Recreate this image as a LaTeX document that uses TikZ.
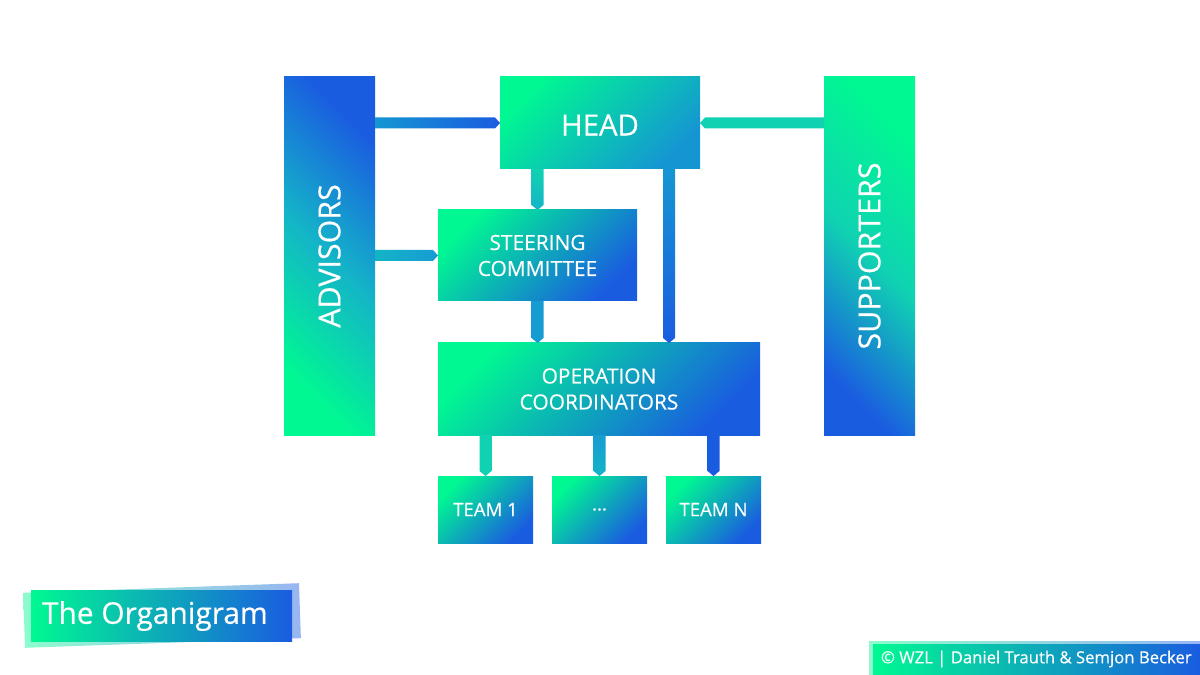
\documentclass[tikz,border=0pt]{standalone}
\usepackage{fontspec}
\setmainfont{Open Sans}[FakeBold=0.4]
\usetikzlibrary{calc}
\definecolor{gr}{HTML}{00F892}
\definecolor{bl}{HTML}{1A5CE0}
\definecolor{tb}{HTML}{1596D2}
\definecolor{tg}{HTML}{10D2B2}
\definecolor{tc}{HTML}{14B4C8}
\definecolor{tm}{HTML}{179CD2}
\newcommand\connR[4]{\shade[left color=#3,right color=#4] ($(#1)+(0,-5.5)$) -- ($(#2)+(-5,-5.5)$) -- (#2) -- ($(#2)+(-5,5.5)$) -- ($(#1)+(0,5.5)$) -- cycle;}
\newcommand\connL[4]{\shade[left color=#4,right color=#3] ($(#1)+(0,-5.5)$) -- ($(#2)+(5,-5.5)$) -- (#2) -- ($(#2)+(5,5.5)$) -- ($(#1)+(0,5.5)$) -- cycle;}
\newcommand\connD[4]{\shade[top color=#3,bottom color=#4] ($(#1)+(-6,0)$) -- ($(#2)+(-6,-5)$) -- (#2) -- ($(#2)+(6,-5)$) -- ($(#1)+(6,0)$) -- cycle;}
\tikzset{
  wh/.style 2 args={minimum width=#1*0.02cm, minimum height=#2*0.02cm},
  box/.style={inner sep=0pt, outer sep=0pt, text=white, align=center},
  gtl/.style={top color=gr, bottom color=#1, shading angle=45},
  vtxt/.style={font=\fontsize{17.3}{20}\selectfont},
  mtxt/.style={font=\fontsize{11.9}{14.8}\selectfont},
}
\begin{document}
\begin{tikzpicture}[x=0.02cm,y=-0.02cm]
\useasboundingbox (0,0) rectangle (1200,675);
% side boxes
\node[box, wh={91}{358}, top color=bl, bottom color=gr, middle color=tc, shading angle=-45] (adv) at (329.5,256) {};
\node[box, rotate=90, vtxt] (advt) at (adv.center) {ADVISORS};
\node[box, wh={91}{358}, top color=gr, bottom color=bl, middle color=tg, shading angle=-45] (sup) at (869.5,256) {};
\node[box, rotate=90, vtxt] (supt) at (sup.center) {SUPPORTERS};
% main boxes
\node[box, wh={200}{92}, gtl=tb] (head) at (600,123) {};
\node[box, font=\fontsize{16.7}{20}\selectfont] (headt) at ($(head.center)+(0,2)$) {HEAD};
\node[box, wh={199}{91}, gtl=bl, mtxt] (steer) at (537.5,255.5) {STEERING\\COMMITTEE};
\node[box, wh={322}{92}, gtl=bl, mtxt] (op) at (599,389) {OPERATION\\COORDINATORS};
\node[box, wh={95}{67}, gtl=bl, font=\fontsize{10.6}{13}\selectfont] (t1) at (485.5,509.5) {TEAM 1};
\node[box, wh={95}{67}, gtl=bl, font=\fontsize{10.6}{13}\selectfont] (t2) at (599.5,509.5) {...};
\node[box, wh={95}{67}, gtl=bl, font=\fontsize{10.6}{13}\selectfont] (tn) at (713.5,509.5) {TEAM N};
% connectors
\connR{adv.east |- head.west}{head.west}{tb}{bl}
\connR{adv.east |- steer.west}{steer.west}{tc}{tm}
\connL{sup.west |- head.east}{head.east}{tg}{tg}
\connD{steer.north |- head.south}{steer.north}{tg}{tc}
\coordinate (hr) at ($(head.south east)+(-31,0)$);
\connD{hr}{hr |- op.north}{tb}{bl}
\connD{steer.south}{steer.south |- op.north}{tm}{tm}
\connD{t1.north |- op.south}{t1.north}{tg}{tg}
\connD{t2.north |- op.south}{t2.north}{tm}{tc}
\connD{tn.north |- op.south}{tn.north}{bl}{bl}
% title
\shade[left color=gr, right color=bl, opacity=0.45, rotate around={2:(162,615)}] (24,588) rectangle (300,643);
\node[box, wh={261}{51}, left color=gr, right color=bl] (title) at (161.5,615.5) {};
\node[box, anchor=west, font=\fontsize{17}{20}\selectfont] (titlet) at (42,616) {The Organigram};
% footer
\shade[left color=gr, right color=bl, opacity=0.45] (869,641) rectangle (1200,675);
\node[box, wh={328}{31}, left color=gr, right color=bl] (foot) at (1037,659.5) {};
\node[box, anchor=west, font=\fontsize{9.5}{11}\selectfont] (foott) at (881,659) {© WZL | Daniel Trauth \& Semjon Becker};
\end{tikzpicture}
\end{document}
